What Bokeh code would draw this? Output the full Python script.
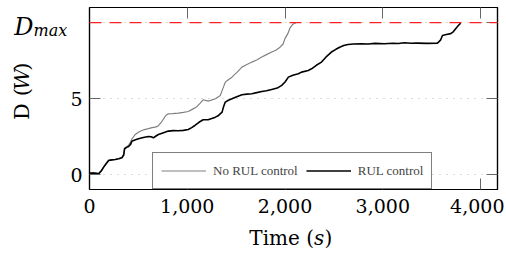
from bokeh.plotting import figure
from bokeh.layouts import row, column
from bokeh.models import (LinearAxis, Range1d, FixedTicker, NumeralTickFormatter, Span)
from bokeh.core.properties import value
from bokeh.embed import file_html
from bokeh.resources import INLINE

# ---- data ----
rul_t = [0, 40, 95, 120, 145, 170, 196, 230, 264, 300, 332, 350, 359, 380, 400, 420, 434,
         470, 501, 550, 603, 630, 654, 680, 705, 750, 806, 860, 908, 960, 1010, 1045, 1078,
         1120, 1162, 1213, 1250, 1288, 1320, 1356, 1370, 1389, 1420, 1457, 1500, 1559, 1610,
         1661, 1710, 1762, 1810, 1864, 1920, 1966, 2000, 2034, 2080, 2136, 2169, 2237, 2271,
         2320, 2373, 2420, 2474, 2520, 2559, 2600, 2644, 2700, 2779, 2850, 2920, 3016, 3100,
         3160, 3220, 3290, 3356, 3450, 3559, 3590, 3610, 3650, 3695, 3720, 3745, 3770, 3796]
rul_d = [0.1, 0.12, 0.07, 0.25, 0.5, 0.72, 0.94, 0.98, 1.0, 1.05, 1.12, 1.3, 1.71, 1.8, 1.86,
         2.0, 2.21, 2.3, 2.37, 2.45, 2.52, 2.5, 2.43, 2.55, 2.65, 2.75, 2.87, 2.9, 2.89, 2.92,
         2.98, 3.1, 3.24, 3.45, 3.62, 3.62, 3.7, 3.79, 3.9, 4.12, 4.45, 4.78, 4.9, 5.0, 5.12,
         5.26, 5.3, 5.33, 5.4, 5.48, 5.52, 5.61, 5.7, 5.88, 6.1, 6.42, 6.55, 6.64, 6.75, 6.86,
         6.97, 7.2, 7.41, 7.75, 8.07, 8.25, 8.39, 8.5, 8.57, 8.6, 8.62, 8.6, 8.64, 8.62, 8.65,
         8.63, 8.68, 8.65, 8.66, 8.64, 8.66, 8.85, 9.16, 9.22, 9.28, 9.4, 9.6, 9.8, 9.97]

nrul_t = [0, 40, 95, 120, 145, 170, 196, 230, 264, 300, 332, 350, 359, 380, 400, 420, 434,
          468, 500, 535, 570, 603, 640, 671, 700, 740, 780, 806, 850, 908, 960, 1010, 1050,
          1094, 1130, 1162, 1213, 1250, 1288, 1338, 1360, 1389, 1420, 1457, 1510, 1559, 1610,
          1661, 1710, 1762, 1810, 1864, 1910, 1949, 1980, 1999, 2030, 2050, 2080, 2110]
nrul_d = [0.12, 0.14, 0.1, 0.28, 0.52, 0.75, 0.96, 1.0, 1.02, 1.07, 1.15, 1.35, 1.75, 1.85,
          1.95, 2.15, 2.35, 2.65, 2.8, 2.91, 2.98, 3.03, 3.1, 3.13, 3.2, 3.5, 3.9, 4.01, 4.02,
          4.05, 4.1, 4.16, 4.3, 4.45, 4.7, 4.93, 4.84, 4.92, 5.0, 5.22, 5.6, 6.09, 6.25, 6.42,
          6.75, 7.08, 7.25, 7.41, 7.55, 7.74, 7.9, 8.07, 8.2, 8.39, 8.6, 8.95, 9.3, 9.65, 9.9,
          10.0]

d_max = 10
x_ticks = [0, 1000, 2000, 3000, 4000]
y_ticks = [0, 5, d_max]
series_labels = ["No RUL control", "RUL control"]

SERIF = "DejaVu Serif"
H_TOP, H_MAIN, H_BOTTOM_FIG = 7, 224, 34
LEFT_W, MAIN_W = 67, 437

# ---------------- main plot ----------------
p = figure(width=MAIN_W, height=H_MAIN, output_backend="svg", toolbar_location=None,
           title=None, x_range=Range1d(0, 4173), y_range=Range1d(-0.97, 11.0),
           min_border_left=20, min_border_right=7, min_border_top=H_TOP,
           min_border_bottom=35)

p.outline_line_color = "black"
p.outline_line_width = 1.2
p.background_fill_color = "white"
p.border_fill_color = "white"

p.xgrid.visible = False
p.ygrid.ticker = FixedTicker(ticks=y_ticks)
p.ygrid.grid_line_color = "#b5b5b5"
p.ygrid.grid_line_dash = "1 6"
p.ygrid.grid_line_width = 1


def style_axis(ax, labels=True):
    ax.major_tick_in = 11
    ax.major_tick_out = 0
    ax.minor_tick_line_color = None
    ax.major_tick_line_color = "#666666"
    ax.major_tick_line_width = 1
    ax.axis_line_color = "black"
    ax.axis_line_width = 1.2
    if labels:
        ax.major_label_text_font = SERIF
        ax.major_label_text_font_size = "19px"
        ax.major_label_text_color = "black"
    else:
        ax.major_label_text_font_size = "0px"
        ax.major_label_standoff = 0


xa = p.xaxis[0]
xa.ticker = FixedTicker(ticks=x_ticks)
xa.formatter = NumeralTickFormatter(format="0,0")
xa.major_label_standoff = 9
style_axis(xa)

ya = p.yaxis[0]
ya.ticker = FixedTicker(ticks=y_ticks)
ya.major_label_overrides = {d_max: ""}
ya.major_label_standoff = 7
style_axis(ya)

top = LinearAxis(ticker=FixedTicker(ticks=x_ticks))
style_axis(top, labels=False)
p.add_layout(top, "above")
right = LinearAxis(ticker=FixedTicker(ticks=y_ticks))
style_axis(right, labels=False)
p.add_layout(right, "right")

p.add_layout(Span(location=d_max, dimension="width", line_color="#ff2020",
                  line_dash="12 8", line_width=1.3))

p.line(nrul_t, nrul_d, line_color="#808080", line_width=1.2, legend_label=series_labels[0])
p.line(rul_t, rul_d, line_color="black", line_width=1.6, legend_label=series_labels[1])

lg = p.legend[0]
lg.orientation = "horizontal"
lg.location = (63, 0)
lg.label_text_font = "Liberation Serif"
lg.label_text_font_size = "13px"
lg.glyph_width = 45
lg.glyph_height = 19
lg.label_height = 19
lg.label_standoff = 7
lg.spacing = 8
lg.padding = 8
lg.margin = 0
lg.border_line_color = "black"
lg.border_line_width = 1
lg.background_fill_alpha = 1


def txt(fig, x, y, s, size, style="normal", align="center", base="middle", angle=0):
    fig.text(x=[x], y=[y], text=[s], text_font=value(SERIF), text_font_size=size,
             text_font_style=style, text_align=align, text_baseline=base,
             angle=angle, text_color="black")


def strip(w, h):
    f = figure(width=w, height=h, output_backend="svg", toolbar_location=None, title=None,
               x_range=Range1d(0, w), y_range=Range1d(0, h), x_axis_location=None,
               y_axis_location=None, min_border=0)
    f.outline_line_color = None
    f.grid.visible = False
    return f


# ---------------- left strip (pixel coords, y up): y title and D_max label ----------------
lf = strip(LEFT_W, H_MAIN)
txt(lf, 21, 124.7, "D (", "21px", align="right", angle=1.5708)
txt(lf, 21, 135.5, "W", "21px", style="italic", align="center", angle=1.5708)
txt(lf, 21, 146.3, ")", "21px", align="left", angle=1.5708)
txt(lf, 33, 200.5, "D", "24px", style="italic", align="right", base="middle")
txt(lf, 33, 196.0, "max", "16px", style="italic", align="left", base="middle")

# ---------------- bottom strip: x title ----------------
bf = strip(LEFT_W + MAIN_W, H_BOTTOM_FIG)
txt(bf, 313.5, 21, "Time (", "20px", align="right")
txt(bf, 318.7, 21, "s", "20px", style="italic", align="center")
txt(bf, 323.9, 21, ")", "20px", align="left")

layout = column(row(lf, p, spacing=0), bf, spacing=0)

open("out.html", "w").write(file_html(layout, INLINE))
